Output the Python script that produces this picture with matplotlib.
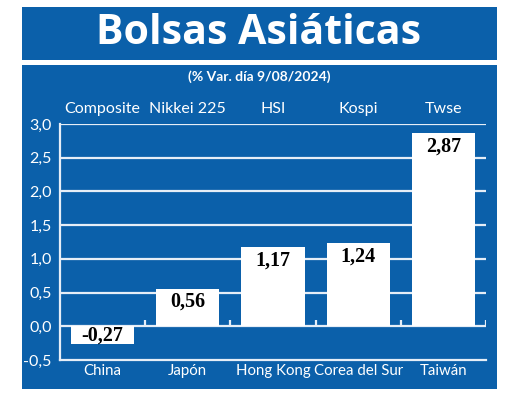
import matplotlib
matplotlib.use("Agg")
import matplotlib.pyplot as plt
from matplotlib.patches import Rectangle
import matplotlib.transforms as mtrans
import numpy as np

countries = ["China", "Japón", "Hong Kong", "Corea del Sur", "Taiwán"]
indices = ["Composite", "Nikkei 225", "HSI", "Kospi", "Twse"]
values = [-0.27, 0.56, 1.17, 1.24, 2.87]
yticks = [-0.5, 0.0, 0.5, 1.0, 1.5, 2.0, 2.5, 3.0]
title = "Bolsas Asiáticas"
subtitle = "(% Var. día 9/08/2024)"

BLUE = "#0b60aa"
NARROW = ["Lato", "DejaVu Sans"]

W, H = 520, 405
fig = plt.figure(figsize=(W / 100, H / 100), dpi=100)
fig.patch.set_facecolor("white")

def fx(px):
    return px / W

def fy(py):
    return 1 - py / H

# panels
fig.patches.append(Rectangle((fx(22), fy(60)), fx(497) - fx(22), fy(7) - fy(60),
                             transform=fig.transFigure, facecolor=BLUE, edgecolor="none", zorder=-5))
fig.patches.append(Rectangle((fx(22), fy(389)), fx(497) - fx(22), fy(65) - fy(389),
                             transform=fig.transFigure, facecolor=BLUE, edgecolor="none", zorder=-5))

fig.text(fx(259), fy(34), title, color="white", fontsize=29.5, fontweight="bold",
         family=["Open Sans", "DejaVu Sans"], ha="center", va="center")
fig.text(fx(259), fy(77), subtitle, color="white", fontsize=10, fontweight="bold",
         family=NARROW, ha="center", va="center")

ax = fig.add_axes([fx(60), fy(360), fx(486) - fx(60), fy(124) - fy(360)])
ax.set_facecolor("none")
ax.set_zorder(2)
x = np.arange(len(countries))
ax.set_xlim(-0.5, len(countries) - 0.5)
ax.set_ylim(yticks[0], yticks[-1])

for yv in yticks[1:]:
    ax.axhline(yv, color="#e6eef7", lw=1.6, zorder=1)

bars = ax.bar(x, values, width=0.74, color="white", edgecolor="none", zorder=2)

ax.vlines(x + 0.5, 0, 0.09, color="#e6eef7", lw=1.6, zorder=1)

for xi, v in zip(x, values):
    lab = f"{v:.2f}".replace(".", ",")
    if v >= 0:
        ax.annotate(lab, (xi, v), xytext=(0, -2.5), textcoords="offset points",
                    ha="center", va="top", fontsize=14.5, fontweight="bold",
                    family=["Liberation Serif", "DejaVu Serif"], color="black", zorder=3)
    else:
        ax.text(xi, v / 2, lab, ha="center", va="center", fontsize=14.5, fontweight="bold",
                family=["Liberation Serif", "DejaVu Serif"], color="black", zorder=3)

ax.set_yticks(yticks)
ax.set_yticklabels([f"{t:.1f}".replace(".", ",") for t in yticks], family=NARROW,
                   fontsize=11.5, color="white")
ax.tick_params(axis="y", length=0, pad=6)
ax.set_xticks(x)
ax.set_xticklabels(countries, family=NARROW, fontsize=10.8, color="white")
ax.tick_params(axis="x", length=0, pad=3)

trans = mtrans.blended_transform_factory(ax.transData, ax.transAxes)
for xi, lab in zip(x, indices):
    ax.text(xi, 1.062, lab, transform=trans, ha="center", va="center", family=NARROW,
            fontsize=11.5, color="white")

for s in ["top", "right"]:
    ax.spines[s].set_visible(False)
for s in ["left", "bottom"]:
    ax.spines[s].set_color("#e6eef7")
    ax.spines[s].set_linewidth(1.6)

fig.savefig("out.png", dpi=100)
